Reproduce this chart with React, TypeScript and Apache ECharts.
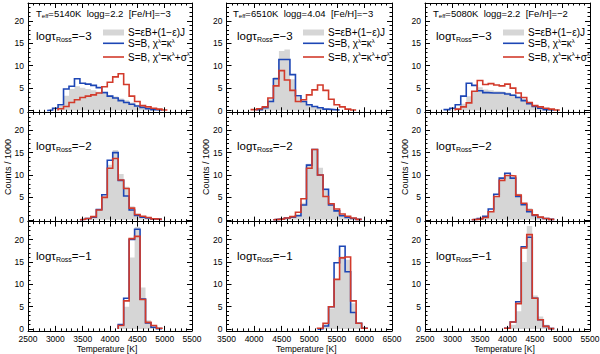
import { useEffect, useRef } from 'react';
import * as echarts from 'echarts';

const FONT = '"Liberation Sans", Arial, Helvetica, sans-serif';
const GRAY = '#d6d6d6';
const BLUE = '#1d46b5';
const RED = '#d23a2b';
const INK = '#000000';

const BIN = 100; // K, histogram bin width

// ---- labels ----
const teffs = ['5140', '6510', '5080'];
const loggs = ['2.2', '4.04', '2.2'];
const fehs = ['−3', '−3', '−2'];
const tauLevels = ['−3', '−2', '−1'];
const xMins = [2500, 3500, 2500];
const xMaxs = [5500, 6500, 5500];
const yMajorTicks = [0, 5, 10, 15, 20];
const yMinorTicks = [1, 2, 3, 4, 6, 7, 8, 9, 11, 12, 13, 14, 16, 17, 18, 19, 21, 22, 23];
const xTitle = 'Temperature [K]';
const yTitle = 'Counts / 1000';

// ---- data: counts/1000 per 100 K bin; first value is the bin centred on *Start ----
// row 1 (log tau = -3)
const r1c1Start = 2900;
const r1c1Gray = [0, 0.3, 1.0, 3.3, 4.8, 5.4, 5.1, 4.8, 4.5, 4.2, 3.8, 3.4, 3.1, 2.7, 2.3, 1.8, 1.3, 0.9, 0.5, 0.3, 0.1, 0];
const r1c1Blue = [0.1, 0.5, 1.3, 4.8, 5.4, 7.1, 6.1, 5.9, 5.6, 5.1, 4.0, 3.2, 2.8, 2.2, 1.8, 1.4, 1.0, 0.7, 0.4, 0.2, 0.1, 0];
const r1c1Red = [0, 0, 0.4, 0.9, 1.8, 2.4, 2.9, 3.2, 3.5, 3.9, 5.3, 6.3, 7.5, 8.2, 5.8, 3.2, 2.0, 1.1, 0.8, 0.5, 0.3, 0.1];

const r1c2Start = 4000;
const r1c2Gray = [0, 0.2, 0.5, 2.5, 7.5, 13.3, 13.6, 7.0, 3.0, 2.0, 1.3, 0.9, 0.6, 0.3, 0.1, 0, 0, 0, 0];
const r1c2Blue = [0, 0.2, 0.6, 2.0, 7.1, 11.4, 11.4, 8.0, 3.3, 2.0, 1.3, 0.9, 0.6, 0.3, 0.2, 0.1, 0, 0, 0];
const r1c2Red = [0.2, 0.4, 0.8, 2.8, 5.5, 8.9, 6.8, 4.5, 2.0, 2.4, 3.5, 4.6, 5.7, 4.5, 2.5, 1.3, 0.8, 0.3, 0.1];

const r1c3Start = 2900;
const r1c3Gray = [0, 0.2, 0.6, 1.5, 3.2, 4.2, 5.2, 4.7, 4.5, 4.3, 4.2, 4.0, 3.7, 3.2, 2.6, 1.9, 1.2, 0.7, 0.4, 0.2, 0.1];
const r1c3Blue = [0.2, 0.5, 1.3, 3.2, 6.1, 5.6, 4.4, 4.0, 3.9, 3.9, 3.9, 3.7, 3.4, 2.9, 2.2, 1.5, 0.9, 0.5, 0.2, 0.1, 0];
const r1c3Red = [0, 0, 0.3, 0.8, 1.7, 4.3, 6.7, 5.8, 6.0, 5.7, 5.5, 5.9, 5.0, 3.9, 2.9, 1.8, 1.1, 0.8, 0.5, 0.3, 0.1];

// row 2 (log tau = -2)
const r2c1Start = 3500;
const r2c1Gray = [0.1, 0.2, 0.6, 2.2, 5.3, 12.3, 15.6, 10.2, 7.4, 3.0, 1.3, 0.8, 0.5, 0.2, 0.1];
const r2c1Blue = [0.1, 0.3, 0.6, 2.3, 5.6, 13.3, 15.0, 8.8, 5.3, 2.2, 1.0, 0.6, 0.4, 0.2, 0.1];
const r2c1Red = [0.1, 0.3, 0.7, 2.2, 5.0, 11.5, 13.7, 8.9, 7.0, 2.6, 1.2, 0.8, 0.5, 0.2, 0.1];

const r2c2Start = 4400;
const r2c2Gray = [0.1, 0.2, 0.4, 0.6, 1.3, 3.8, 12.5, 15.4, 11.6, 6.5, 3.5, 2.2, 1.1, 0.6, 0.3, 0.1];
const r2c2Blue = [0.1, 0.2, 0.4, 0.6, 0.9, 3.3, 12.2, 15.7, 10.0, 6.8, 3.3, 2.0, 0.9, 0.5, 0.3, 0.1];
const r2c2Red = [0.1, 0.2, 0.4, 0.7, 1.7, 4.7, 11.5, 15.7, 10.0, 5.2, 3.6, 2.4, 1.3, 0.8, 0.4, 0.1];

const r2c3Start = 3400;
const r2c3Gray = [0.1, 0.2, 0.6, 2.0, 5.3, 8.9, 10.0, 9.4, 5.8, 3.6, 2.6, 1.2, 0.6, 0.3, 0.1];
const r2c3Blue = [0.1, 0.3, 0.8, 2.4, 5.7, 9.3, 10.4, 9.3, 5.2, 3.4, 1.8, 1.0, 0.5, 0.3, 0.1];
const r2c3Red = [0.1, 0.2, 0.5, 1.8, 5.2, 8.8, 9.9, 9.8, 5.5, 3.7, 2.2, 1.1, 0.6, 0.3, 0.1];

// row 3 (log tau = -1)
const r3c1Start = 4200;
const r3c1Gray = [0.6, 5.0, 16.0, 22.8, 9.3, 2.0, 0.5, 0.1];
const r3c1Blue = [1.0, 6.9, 20.0, 22.3, 6.7, 1.4, 0.4, 0.1];
const r3c1Red = [0.8, 6.3, 20.2, 20.7, 6.6, 1.5, 0.8, 0.2];

const r3c2Start = 5200;
const r3c2Gray = [0.2, 1.2, 4.6, 11.2, 16.2, 15.5, 5.8, 1.2, 0.2];
const r3c2Blue = [0.1, 0.7, 5.0, 14.8, 18.5, 12.8, 3.7, 1.3, 0.2];
const r3c2Red = [0.2, 1.3, 5.0, 11.1, 15.9, 16.1, 6.3, 1.3, 0.2];

const r3c3Start = 4000;
const r3c3Gray = [0.1, 1.0, 4.0, 15.0, 23.0, 7.5, 2.8, 1.0, 0.3];
const r3c3Blue = [0.2, 1.6, 6.1, 18.4, 20.5, 6.9, 2.1, 0.6, 0.1];
const r3c3Red = [0.2, 1.6, 5.7, 18.1, 21.1, 6.9, 2.1, 0.6, 0.1];

const panels = [
  { start: r1c1Start, gray: r1c1Gray, blue: r1c1Blue, red: r1c1Red },
  { start: r1c2Start, gray: r1c2Gray, blue: r1c2Blue, red: r1c2Red },
  { start: r1c3Start, gray: r1c3Gray, blue: r1c3Blue, red: r1c3Red },
  { start: r2c1Start, gray: r2c1Gray, blue: r2c1Blue, red: r2c1Red },
  { start: r2c2Start, gray: r2c2Gray, blue: r2c2Blue, red: r2c2Red },
  { start: r2c3Start, gray: r2c3Gray, blue: r2c3Blue, red: r2c3Red },
  { start: r3c1Start, gray: r3c1Gray, blue: r3c1Blue, red: r3c1Red },
  { start: r3c2Start, gray: r3c2Gray, blue: r3c2Blue, red: r3c2Red },
  { start: r3c3Start, gray: r3c3Gray, blue: r3c3Blue, red: r3c3Red },
];

// ---- layout (px) ----
const COL_LEFT = [28, 226.5, 425];
const COL_WIDTH = [164, 165.5, 165];
const ROW_TOP = [3, 112.3, 221.6];
const ROW_H = 109.3;
const Y_MIN = -0.4;
const Y_MAX = 24;

function histPoints(start: number, vals: number[]) {
  let a = 0;
  while (a < vals.length && vals[a] === 0) a++;
  let b = vals.length - 1;
  while (b >= a && vals[b] === 0) b--;
  const pts: number[][] = [];
  if (a > b) return pts;
  const edge = (i: number) => start + i * BIN - BIN / 2;
  pts.push([edge(a), 0]);
  for (let i = a; i <= b; i++) pts.push([edge(i), vals[i]]);
  pts.push([edge(b + 1), 0]);
  return pts;
}

function buildOption() {
  const grid: any[] = [];
  const xAxis: any[] = [];
  const yAxis: any[] = [];
  const series: any[] = [];
  const graphic: any[] = [];

  panels.forEach((p, k) => {
    const row = Math.floor(k / 3);
    const col = k % 3;
    grid.push({
      left: COL_LEFT[col], top: ROW_TOP[row], width: COL_WIDTH[col], height: ROW_H,
      containLabel: false, outerBoundsMode: 'none', show: false,
    });
    const xi = xAxis.length;
    const xBase = {
      gridIndex: k, type: 'value', min: xMins[col], max: xMaxs[col], interval: 500, z: 5,
      axisLine: { show: true, onZero: false, lineStyle: { color: INK, width: 1 } },
      axisTick: { show: true, inside: true, length: 5, lineStyle: { color: INK, width: 1 } },
      minorTick: { show: true, splitNumber: 5, length: 2.5, lineStyle: { color: INK, width: 1 } },
      splitLine: { show: false }, minorSplitLine: { show: false },
    };
    xAxis.push({
      ...xBase, position: 'bottom',
      axisLabel: {
        show: row === 2, fontSize: 8.5, color: INK, fontFamily: FONT, margin: 4,
        formatter: (v: number) => String(v),
      },
    });
    xAxis.push({ ...xBase, position: 'top', axisLabel: { show: false } });

    const yi = yAxis.length;
    const yBase = {
      gridIndex: k, type: 'value', min: Y_MIN, max: Y_MAX, z: 5,
      splitLine: { show: false },
      axisLine: { show: true, onZero: false, lineStyle: { color: INK, width: 1 } },
    };
    const major = { show: true, inside: true, length: 5, customValues: yMajorTicks, lineStyle: { color: INK, width: 1 } };
    const minor = { show: true, inside: true, length: 2.5, customValues: yMinorTicks, lineStyle: { color: INK, width: 1 } };
    yAxis.push({
      ...yBase, position: 'left', axisTick: major,
      axisLabel: {
        show: true, customValues: yMajorTicks, fontSize: 8.5, color: INK, fontFamily: FONT, margin: 4,
        formatter: (v: number) => String(v),
      },
    });
    yAxis.push({ ...yBase, position: 'left', axisLine: { show: false, onZero: false }, axisTick: minor, axisLabel: { show: false } });
    yAxis.push({ ...yBase, position: 'right', axisTick: major, axisLabel: { show: false } });
    yAxis.push({ ...yBase, position: 'right', axisLine: { show: false, onZero: false }, axisTick: minor, axisLabel: { show: false } });

    const common = {
      type: 'line', xAxisIndex: xi, yAxisIndex: yi, step: 'end', symbol: 'none',
      showSymbol: false, silent: true, animation: false,
    };
    series.push({
      ...common, data: histPoints(p.start, p.gray), z: 1,
      lineStyle: { width: 0, color: GRAY }, itemStyle: { color: GRAY },
      areaStyle: { color: GRAY, opacity: 1 },
    });
    series.push({
      ...common, data: histPoints(p.start, p.blue), z: 2,
      lineStyle: { width: 1.6, color: BLUE, join: 'miter' }, itemStyle: { color: BLUE },
    });
    series.push({
      ...common, data: histPoints(p.start, p.red), z: 3,
      lineStyle: { width: 1.6, color: RED, join: 'miter' }, itemStyle: { color: RED },
    });
  });

  // ---- texts ----
  const tauX = [36, 237, 436];
  const tauY = [36, 145.5, 255.5];
  const headX = [36, 233, 433];
  const boxX = [103, 303, 503];
  const legTextX = [128, 328, 528];
  const tauRich = {
    m: { fontSize: 11.5, fontFamily: FONT, fill: INK, lineHeight: 14, verticalAlign: 'middle' },
    s: { fontSize: 7, fontFamily: FONT, fill: INK, lineHeight: 8, padding: [7, 0, 0, 0], verticalAlign: 'middle' },
  };
  const headRich = {
    m: { fontSize: 9.5, fontFamily: FONT, fill: INK, lineHeight: 12, verticalAlign: 'middle' },
    s: { fontSize: 6, fontFamily: FONT, fill: INK, lineHeight: 6, padding: [5, 0, 0, 0], verticalAlign: 'middle' },
  };
  const legRich = {
    m: { fontSize: 10, fontFamily: FONT, fill: INK, lineHeight: 12, verticalAlign: 'middle' },
    p: { fontSize: 6, fontFamily: FONT, fill: INK, lineHeight: 6, padding: [0, 0, 6, 0], verticalAlign: 'middle' },
  };
  for (let col = 0; col < 3; col++) {
    graphic.push({
      type: 'text', x: headX[col], y: 13.5, silent: true, z: 20,
      style: {
        text: `{m|T}{s|eff}{m|=${teffs[col]}K  logg=${loggs[col]}  [Fe/H]=${fehs[col]}}`,
        rich: headRich, textAlign: 'left', textVerticalAlign: 'middle', align: 'left', verticalAlign: 'middle',
      },
    });
    for (let row = 0; row < 3; row++) {
      graphic.push({
        type: 'text', x: tauX[col], y: tauY[row], silent: true, z: 20,
        style: {
          text: `{m|logτ}{s|Ross}{m|=${tauLevels[row]}}`,
          rich: tauRich, textAlign: 'left', textVerticalAlign: 'middle', align: 'left', verticalAlign: 'middle',
        },
      });
    }
    // legend
    graphic.push({ type: 'rect', silent: true, z: 20, shape: { x: boxX[col], y: 29.5, width: 21, height: 6 }, style: { fill: GRAY } });
    graphic.push({ type: 'line', silent: true, z: 20, shape: { x1: boxX[col], y1: 43.3, x2: boxX[col] + 21, y2: 43.3 }, style: { stroke: BLUE, lineWidth: 1.6 } });
    graphic.push({ type: 'line', silent: true, z: 20, shape: { x1: boxX[col], y1: 57, x2: boxX[col] + 21, y2: 57 }, style: { stroke: RED, lineWidth: 1.6 } });
    graphic.push({
      type: 'text', x: legTextX[col], y: 32.7, silent: true, z: 20,
      style: { text: '{m|S=εB+(1−ε)J}', rich: legRich, textAlign: 'left', textVerticalAlign: 'middle', align: 'left', verticalAlign: 'middle' },
    });
    graphic.push({
      type: 'text', x: legTextX[col], y: 43.5, silent: true, z: 20,
      style: { text: '{m|S=B, χ}{p|λ}{m|=κ}{p|λ}', rich: legRich, textAlign: 'left', textVerticalAlign: 'middle', align: 'left', verticalAlign: 'middle' },
    });
    graphic.push({
      type: 'text', x: legTextX[col], y: 57, silent: true, z: 20,
      style: { text: '{m|S=B, χ}{p|λ}{m|=κ}{p|λ}{m|+σ}{p|λ}', rich: legRich, textAlign: 'left', textVerticalAlign: 'middle', align: 'left', verticalAlign: 'middle' },
    });
    // axis titles
    graphic.push({
      type: 'text', x: COL_LEFT[col] - 20.5, y: ROW_TOP[1] + ROW_H / 2, rotation: Math.PI / 2, silent: true, z: 20,
      style: { text: yTitle, fontSize: 9, fontFamily: FONT, fill: INK, textAlign: 'center', textVerticalAlign: 'middle', align: 'center', verticalAlign: 'middle' },
    });
    graphic.push({
      type: 'text', x: COL_LEFT[col] + COL_WIDTH[col] / 2 - 3, y: 348.5, silent: true, z: 20,
      style: { text: xTitle, fontSize: 8.5, fontFamily: FONT, fill: INK, textAlign: 'center', textVerticalAlign: 'middle', align: 'center', verticalAlign: 'middle' },
    });
  }

  return {
    animation: false,
    backgroundColor: '#ffffff',
    textStyle: { fontFamily: FONT },
    grid, xAxis, yAxis, series, graphic,
  };
}

export default function App() {
  const ref = useRef<HTMLDivElement>(null);
  useEffect(() => {
    if (!ref.current) return;
    const chart = echarts.init(ref.current, undefined, { renderer: 'svg' });
    chart.setOption(buildOption() as any);
    return () => chart.dispose();
  }, []);
  return (
    <div
      ref={ref}
      style={{ position: 'fixed', left: 0, top: 0, width: 600, height: 354, background: '#fff' }}
    />
  );
}
